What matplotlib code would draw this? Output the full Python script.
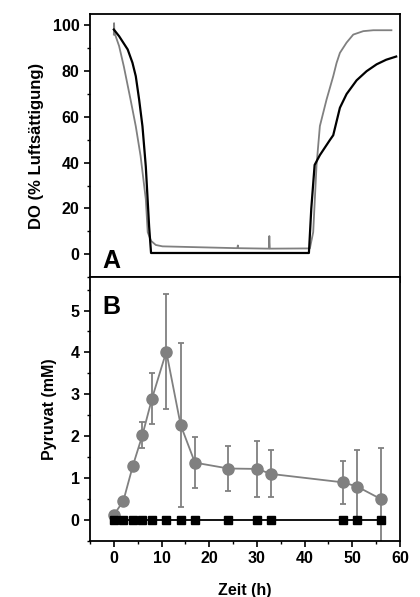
import numpy as np
import matplotlib.pyplot as plt
from matplotlib.ticker import MultipleLocator

plt.rcParams['font.family'] = ['Liberation Sans', 'DejaVu Sans']
plt.rcParams['font.weight'] = 'bold'

# panel A: dissolved oxygen traces
do_black_t = [0, 1.1, 2.9, 3.9, 4.6, 5.3, 6.0, 6.7, 7.4, 7.8, 20, 40.9, 41.4, 42.1, 43.2,
              45.3, 46.0, 47.4, 48.8, 50.9, 53.0, 55.1, 57.1, 59.2]
do_black = [98.2, 95.3, 89.5, 83.7, 77.8, 67.6, 55.9, 38.3, 12, 0.5, 0.5, 0.5, 20, 39, 43.3,
            49.9, 52, 64, 70, 76, 80, 83, 85, 86.4]

do_gray_t = [0, 0.05, 0.1, 1.1, 2.1, 3.5, 4.6, 5.6, 6.7, 7.1, 7.8, 8.8, 10.2, 20, 25.9, 26.0,
             26.1, 32.5, 32.6, 32.7, 41.1, 41.8, 42.5, 43.2, 44.6, 46.0, 46.7, 47.4, 48.8,
             50.2, 52.3, 54.4, 58.2]
do_gray = [96, 101, 97, 91, 82, 67.6, 55.9, 43, 24, 9.6, 5.8, 4.0, 3.4, 2.9, 2.6, 3.8,
           2.6, 2.4, 7.9, 2.4, 2.5, 9.6, 38.9, 56, 67.6, 77.8, 83.6, 88, 92.5,
           96, 97.5, 97.9, 97.9]

# panel B: pyruvate
t_pyr = [0, 2, 4, 6, 8, 11, 14, 17, 24, 30, 33, 48, 51, 56]
pyr_gray = [0.12, 0.46, 1.30, 2.03, 2.90, 4.02, 2.27, 1.37, 1.23, 1.22, 1.10, 0.90, 0.80, 0.50]
pyr_err = [0.05, 0.05, 0.08, 0.32, 0.60, 1.37, 1.96, 0.60, 0.53, 0.67, 0.56, 0.52, 0.87, 1.23]
pyr_black = [0, 0, 0, 0, 0, 0, 0, 0, 0, 0, 0, 0, 0, 0]

gray = '#808080'
fig = plt.figure(figsize=(4.2, 5.97), dpi=100)
axA = fig.add_axes([90/420, 320/597, 310/420, 263/597])
axB = fig.add_axes([90/420, 56/597, 310/420, 264/597])

axA.plot(do_gray_t, do_gray, color=gray, lw=1.3)
axA.plot(do_black_t, do_black, color='black', lw=1.6)
axA.set_xlim(-5, 60)
axA.set_ylim(-10, 105)
axA.set_yticks([0, 20, 40, 60, 80, 100])
axA.yaxis.set_minor_locator(MultipleLocator(10))
axA.xaxis.set_major_locator(MultipleLocator(10))
axA.xaxis.set_minor_locator(MultipleLocator(5))
axA.tick_params(labelbottom=False)
axA.set_ylabel('DO (% Luftsättigung)', fontsize=12, fontweight='bold', labelpad=6)
axA.text(0.04, 0.035, 'A', transform=axA.transAxes, fontsize=18, fontweight='bold')

axB.errorbar(t_pyr, pyr_gray, yerr=pyr_err, color=gray, lw=1.3, marker='o', ms=8,
             capsize=2.5, elinewidth=1.3, capthick=1.3, zorder=2)
axB.plot(t_pyr, pyr_black, color='black', lw=1.3, marker='s', ms=6, zorder=3)
axB.set_xlim(-5, 60)
axB.set_ylim(-0.5, 5.8)
axB.yaxis.set_major_locator(MultipleLocator(1))
axB.yaxis.set_minor_locator(MultipleLocator(0.5))
axB.xaxis.set_major_locator(MultipleLocator(10))
axB.xaxis.set_minor_locator(MultipleLocator(5))
axB.set_ylabel('Pyruvat (mM)', fontsize=11.5, fontweight='bold', labelpad=10)
axB.set_xlabel('Zeit (h)', fontsize=11.5, fontweight='bold', labelpad=12)
axB.text(0.04, 0.93, 'B', transform=axB.transAxes, fontsize=18, fontweight='bold', va='top')

for ax in (axA, axB):
    for s in ax.spines.values():
        s.set_linewidth(1.3)
    ax.tick_params(which='major', direction='out', length=4, width=1.2, labelsize=11.5)
    ax.tick_params(which='minor', direction='out', length=2.5, width=1.0)
    for lab in ax.get_xticklabels() + ax.get_yticklabels():
        lab.set_fontweight('bold')

plt.savefig('out.png', dpi=100)
